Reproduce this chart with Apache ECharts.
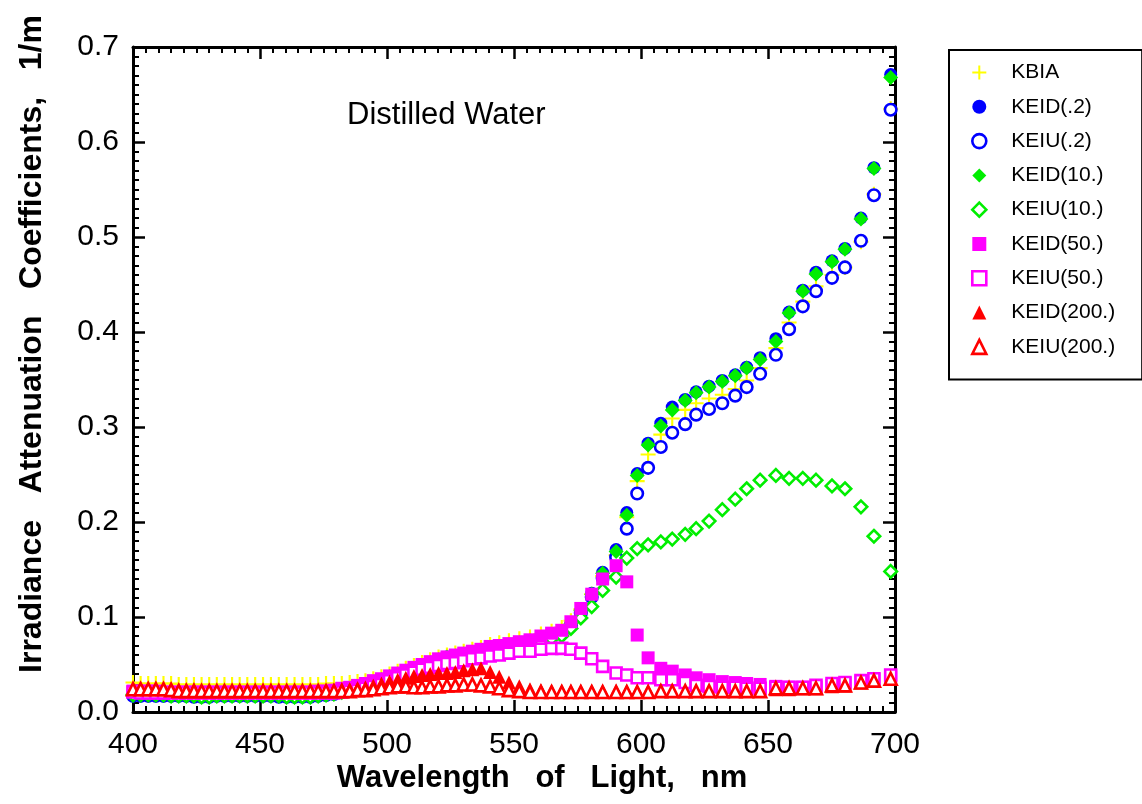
<!DOCTYPE html>
<html><head><meta charset="utf-8">
<script src="https://cdn.jsdelivr.net/npm/echarts@6/dist/echarts.min.js"></script>
<style>html,body{margin:0;padding:0;background:#fff}#c{width:1142px;height:804px}</style>
</head><body><div id="c"></div>
<script>
const wavelengths = [400.0,403.0,406.0,409.0,412.0,415.0,418.0,421.0,424.0,427.0,430.0,433.0,436.0,439.0,442.0,445.0,
  448.1,451.2,454.3,457.4,460.5,463.6,466.7,469.8,472.9,476.0,479.1,482.2,485.3,488.4,491.5,494.6,497.8,
  501.0,504.2,507.4,510.6,513.8,517.0,520.3,523.6,526.9,530.2,533.6,537.0,
  540.6,544.2,548.0,552.1,556.3,560.6,564.8,568.8,572.4,576.3,580.6,584.9,590.2,594.4,598.5,602.8,607.8,612.3,617.4,621.7,626.8,632.0,637.1,641.6,646.9,653.1,658.3,663.7,668.9,675.2,680.3,686.6,691.7,698.3];

const xTickValues = [400,450,500,550,600,650,700];
const yTickValues = [0.0,0.1,0.2,0.3,0.4,0.5,0.6,0.7];

const KBIA = [0.031,0.030,0.030,0.030,0.030,0.030,0.029,0.029,0.029,0.029,0.029,0.029,0.029,0.029,0.029,0.029,
  0.029,0.029,0.029,0.029,0.029,0.029,0.029,0.029,0.029,0.030,0.030,0.030,0.031,0.032,0.033,0.035,0.037,
  0.040,0.043,0.046,0.049,0.052,0.055,0.058,0.060,0.062,0.064,0.066,0.068,
  0.071,0.073,0.075,0.077,0.079,0.082,0.085,0.089,0.096,0.108,0.124,0.143,0.165,0.205,0.243,0.271,0.292,0.309,0.318,0.325,0.330,0.334,0.340,0.349,0.362,0.383,0.410,0.432,0.448,0.460,0.468,0.495,0.545,0.635];

const KEID_02 = [0.018,0.018,0.018,0.018,0.018,0.017,0.017,0.017,0.017,0.017,0.017,0.018,0.018,0.018,0.018,0.018,
  0.018,0.018,0.018,0.017,0.016,0.016,0.016,0.016,0.017,0.018,0.020,0.022,0.024,0.026,0.029,0.031,0.034,
  0.037,0.040,0.043,0.046,0.049,0.052,0.055,0.058,0.059,0.061,0.063,0.065,
  0.067,0.069,0.071,0.073,0.075,0.078,0.081,0.085,0.093,0.107,0.125,0.147,0.171,0.210,0.251,0.283,0.304,0.321,0.329,0.337,0.343,0.349,0.355,0.363,0.373,0.393,0.421,0.444,0.463,0.475,0.488,0.520,0.573,0.671];

const KEIU_02 = [0.017,0.017,0.017,0.017,0.017,0.017,0.017,0.017,0.016,0.016,0.016,0.017,0.017,0.017,0.017,0.017,
  0.017,0.017,0.017,0.016,0.016,0.016,0.016,0.016,0.017,0.018,0.019,0.021,0.023,0.025,0.028,0.030,0.033,
  0.036,0.039,0.042,0.045,0.048,0.051,0.054,0.057,0.058,0.060,0.062,0.064,
  0.066,0.068,0.070,0.072,0.074,0.077,0.080,0.084,0.091,0.104,0.121,0.141,0.163,0.193,0.230,0.257,0.279,0.294,0.303,0.313,0.319,0.325,0.333,0.342,0.356,0.376,0.403,0.427,0.443,0.457,0.468,0.496,0.544,0.634];

const KEID_10 = [0.019,0.019,0.019,0.019,0.018,0.018,0.018,0.018,0.017,0.016,0.016,0.017,0.018,0.018,0.018,0.018,
  0.018,0.018,0.018,0.017,0.016,0.016,0.016,0.017,0.018,0.019,0.020,0.022,0.024,0.026,0.029,0.031,0.034,
  0.037,0.040,0.043,0.046,0.049,0.052,0.055,0.058,0.059,0.061,0.063,0.065,
  0.067,0.069,0.071,0.073,0.075,0.078,0.081,0.085,0.093,0.107,0.124,0.146,0.169,0.207,0.249,0.281,0.301,0.318,0.328,0.336,0.342,0.348,0.354,0.362,0.371,0.390,0.420,0.443,0.461,0.474,0.487,0.519,0.572,0.668];

const KEIU_10 = [0.018,0.018,0.018,0.018,0.018,0.017,0.017,0.017,0.017,0.016,0.016,0.017,0.017,0.017,0.017,0.017,
  0.017,0.017,0.017,0.017,0.016,0.016,0.016,0.016,0.017,0.018,0.019,0.021,0.023,0.025,0.027,0.030,0.032,
  0.035,0.038,0.041,0.044,0.047,0.050,0.053,0.055,0.056,0.058,0.059,0.061,
  0.062,0.064,0.066,0.069,0.071,0.074,0.077,0.080,0.088,0.099,0.111,0.128,0.142,0.162,0.172,0.176,0.179,0.182,0.187,0.193,0.201,0.213,0.224,0.235,0.244,0.249,0.246,0.246,0.244,0.238,0.235,0.216,0.185,0.148];

const KEID_50 = [0.022,0.022,0.022,0.022,0.021,0.021,0.021,0.021,0.021,0.021,0.021,0.021,0.021,0.021,0.021,0.021,
  0.021,0.021,0.021,0.021,0.021,0.021,0.021,0.021,0.022,0.022,0.023,0.025,0.026,0.028,0.030,0.033,0.035,
  0.038,0.041,0.044,0.047,0.050,0.053,0.056,0.058,0.060,0.062,0.064,0.066,
  0.069,0.070,0.072,0.074,0.076,0.080,0.083,0.086,0.095,0.109,0.124,0.140,0.154,0.137,0.081,0.057,0.046,0.043,0.039,0.036,0.034,0.032,0.031,0.030,0.029,0.027,0.026,0.026,0.026,0.028,0.030,0.032,0.034,0.037];

const KEIU_50 = [0.021,0.020,0.020,0.020,0.020,0.020,0.020,0.020,0.020,0.020,0.020,0.020,0.020,0.020,0.020,0.020,
  0.020,0.020,0.020,0.020,0.020,0.020,0.020,0.020,0.020,0.020,0.020,0.021,0.022,0.023,0.025,0.027,0.029,
  0.033,0.036,0.039,0.042,0.045,0.047,0.049,0.051,0.052,0.054,0.056,0.057,
  0.059,0.060,0.062,0.064,0.064,0.066,0.067,0.067,0.066,0.062,0.056,0.048,0.041,0.039,0.036,0.036,0.034,0.034,0.031,0.028,0.027,0.026,0.026,0.025,0.025,0.026,0.026,0.026,0.028,0.030,0.031,0.033,0.035,0.039];

const KEID_200 = [0.025,0.025,0.025,0.025,0.025,0.025,0.024,0.024,0.024,0.023,0.023,0.023,0.023,0.023,0.023,0.023,
  0.023,0.023,0.023,0.023,0.023,0.023,0.023,0.023,0.023,0.023,0.023,0.024,0.024,0.025,0.026,0.028,0.030,
  0.032,0.034,0.036,0.038,0.039,0.040,0.041,0.041,0.042,0.044,0.045,0.046,
  0.042,0.037,0.031,0.027,0.024,0.023,0.022,0.022,0.022,0.022,0.022,0.022,0.022,0.022,0.022,0.022,0.022,0.022,0.022,0.022,0.022,0.022,0.022,0.022,0.022,0.024,0.024,0.025,0.025,0.027,0.028,0.031,0.033,0.035];

const KEIU_200 = [0.024,0.024,0.024,0.024,0.024,0.023,0.022,0.022,0.022,0.022,0.022,0.022,0.022,0.022,0.022,0.022,
  0.022,0.022,0.022,0.022,0.022,0.022,0.022,0.022,0.022,0.022,0.022,0.022,0.022,0.023,0.023,0.024,0.025,
  0.026,0.027,0.027,0.026,0.026,0.027,0.027,0.028,0.028,0.029,0.029,0.028,
  0.027,0.025,0.023,0.022,0.021,0.021,0.021,0.021,0.021,0.021,0.021,0.021,0.021,0.021,0.021,0.021,0.022,0.022,0.022,0.022,0.022,0.022,0.022,0.022,0.022,0.025,0.025,0.025,0.025,0.028,0.028,0.031,0.033,0.035];

const seriesNames = ['KBIA','KEID(.2)','KEIU(.2)','KEID(10.)','KEIU(10.)','KEID(50.)','KEIU(50.)','KEID(200.)','KEIU(200.)'];
const seriesValues = [KBIA, KEID_02, KEIU_02, KEID_10, KEIU_10, KEID_50, KEIU_50, KEID_200, KEIU_200];

const plusPath = 'path://M-1,-7H1V-1H7V1H1V7H-1V1H-7V-1H-1Z';
const styles = [
  {symbol: plusPath, color: '#ffff00', size: 15, hollow: false},
  {symbol: 'circle', color: '#0000ff', size: 13, hollow: false},
  {symbol: 'circle', color: '#0000ff', size: 11.5, hollow: true},
  {symbol: 'diamond', color: '#00ee00', size: 15, hollow: false},
  {symbol: 'diamond', color: '#00ee00', size: 12.5, hollow: true},
  {symbol: 'rect', color: '#ff00ff', size: 13, hollow: false},
  {symbol: 'rect', color: '#ff00ff', size: 11, hollow: true},
  {symbol: 'triangle', color: '#ff0000', size: 14, hollow: false},
  {symbol: 'triangle', color: '#ff0000', size: 12, hollow: true}
];

const FONT = 'Liberation Sans, Arial, sans-serif';
const series = seriesNames.map((name, k) => ({
  name: name,
  type: 'scatter',
  data: wavelengths.map((w, i) => [w, seriesValues[k][i]]),
  symbol: styles[k].symbol,
  symbolSize: styles[k].size,
  symbolKeepAspect: true,
  itemStyle: styles[k].hollow
    ? {color: '#ffffff', borderColor: styles[k].color, borderWidth: 2.6, opacity: 1}
    : {color: styles[k].color, borderWidth: 0, opacity: 1},
  emphasis: {disabled: true},
  animation: false
}));

const legendData = seriesNames.map((name, k) => ({
  name: name,
  itemStyle: styles[k].hollow
    ? {color: '#ffffff', borderColor: styles[k].color, borderWidth: 2.6}
    : {color: styles[k].color, borderWidth: 0}
}));

function xAxisDef(pos, showLabel) {
  return {
    type: 'value', min: 400, max: 700, interval: 50, position: pos,
    axisLine: {show: true, onZero: false, lineStyle: {color: '#000', width: 3}},
    axisTick: {show: true, inside: true, length: 12, lineStyle: {color: '#000', width: 2.5}},
    minorTick: {show: true, splitNumber: 10, length: 6, lineStyle: {color: '#000', width: 2}},
    axisLabel: {show: showLabel, fontSize: 30, color: '#000', margin: 18, fontFamily: FONT,
      formatter: v => xTickValues.includes(v) ? String(v) : ''},
    splitLine: {show: false}
  };
}
function yAxisDef(pos, showLabel) {
  return {
    type: 'value', min: 0, max: 0.7, interval: 0.1, position: pos,
    axisLine: {show: true, onZero: false, lineStyle: {color: '#000', width: 3}},
    axisTick: {show: true, inside: true, length: 12, lineStyle: {color: '#000', width: 2.5}},
    minorTick: {show: true, splitNumber: 10, length: 6, lineStyle: {color: '#000', width: 2}},
    axisLabel: {show: showLabel, fontSize: 30, color: '#000', margin: 14, fontFamily: FONT,
      formatter: v => {
        const t = yTickValues.find(y => Math.abs(y - v) < 1e-9);
        return t === undefined ? '' : t.toFixed(1);
      }},
    splitLine: {show: false}
  };
}

const chart = echarts.init(document.getElementById('c'), null, {renderer: 'canvas'});
chart.setOption({
  backgroundColor: '#fff',
  animation: false,
  grid: {left: 133, right: 247, top: 47, bottom: 92, containLabel: false},
  xAxis: [xAxisDef('bottom', true), xAxisDef('top', false)],
  yAxis: [yAxisDef('left', true), yAxisDef('right', false)],
  legend: {
    orient: 'vertical', left: 949, top: 50,
    padding: [12, 27, 22, 22], itemGap: 13.3, itemWidth: 14, itemHeight: 14,
    symbolKeepAspect: true,
    textStyle: {fontSize: 21, fontFamily: FONT, color: '#000', padding: [0, 0, 0, 20]},
    borderColor: '#000', borderWidth: 2, backgroundColor: '#fff',
    selectedMode: false,
    data: legendData
  },
  graphic: [
    {type: 'text', left: 347, top: 100, style: {text: 'Distilled Water', font: '31px ' + FONT, fill: '#000'}},
    {type: 'text', x: 542, y: 778, style: {text: 'Wavelength   of   Light,   nm', font: 'bold 31px ' + FONT, fill: '#000', align: 'center', verticalAlign: 'middle'}},
    {type: 'text', x: 32, y: 344, rotation: Math.PI / 2, style: {text: 'Irradiance   Attenuation   Coefficients,   1/m', font: 'bold 32px ' + FONT, fill: '#000', align: 'center', verticalAlign: 'middle'}}
  ],
  series: series
});
</script>
</body></html>
